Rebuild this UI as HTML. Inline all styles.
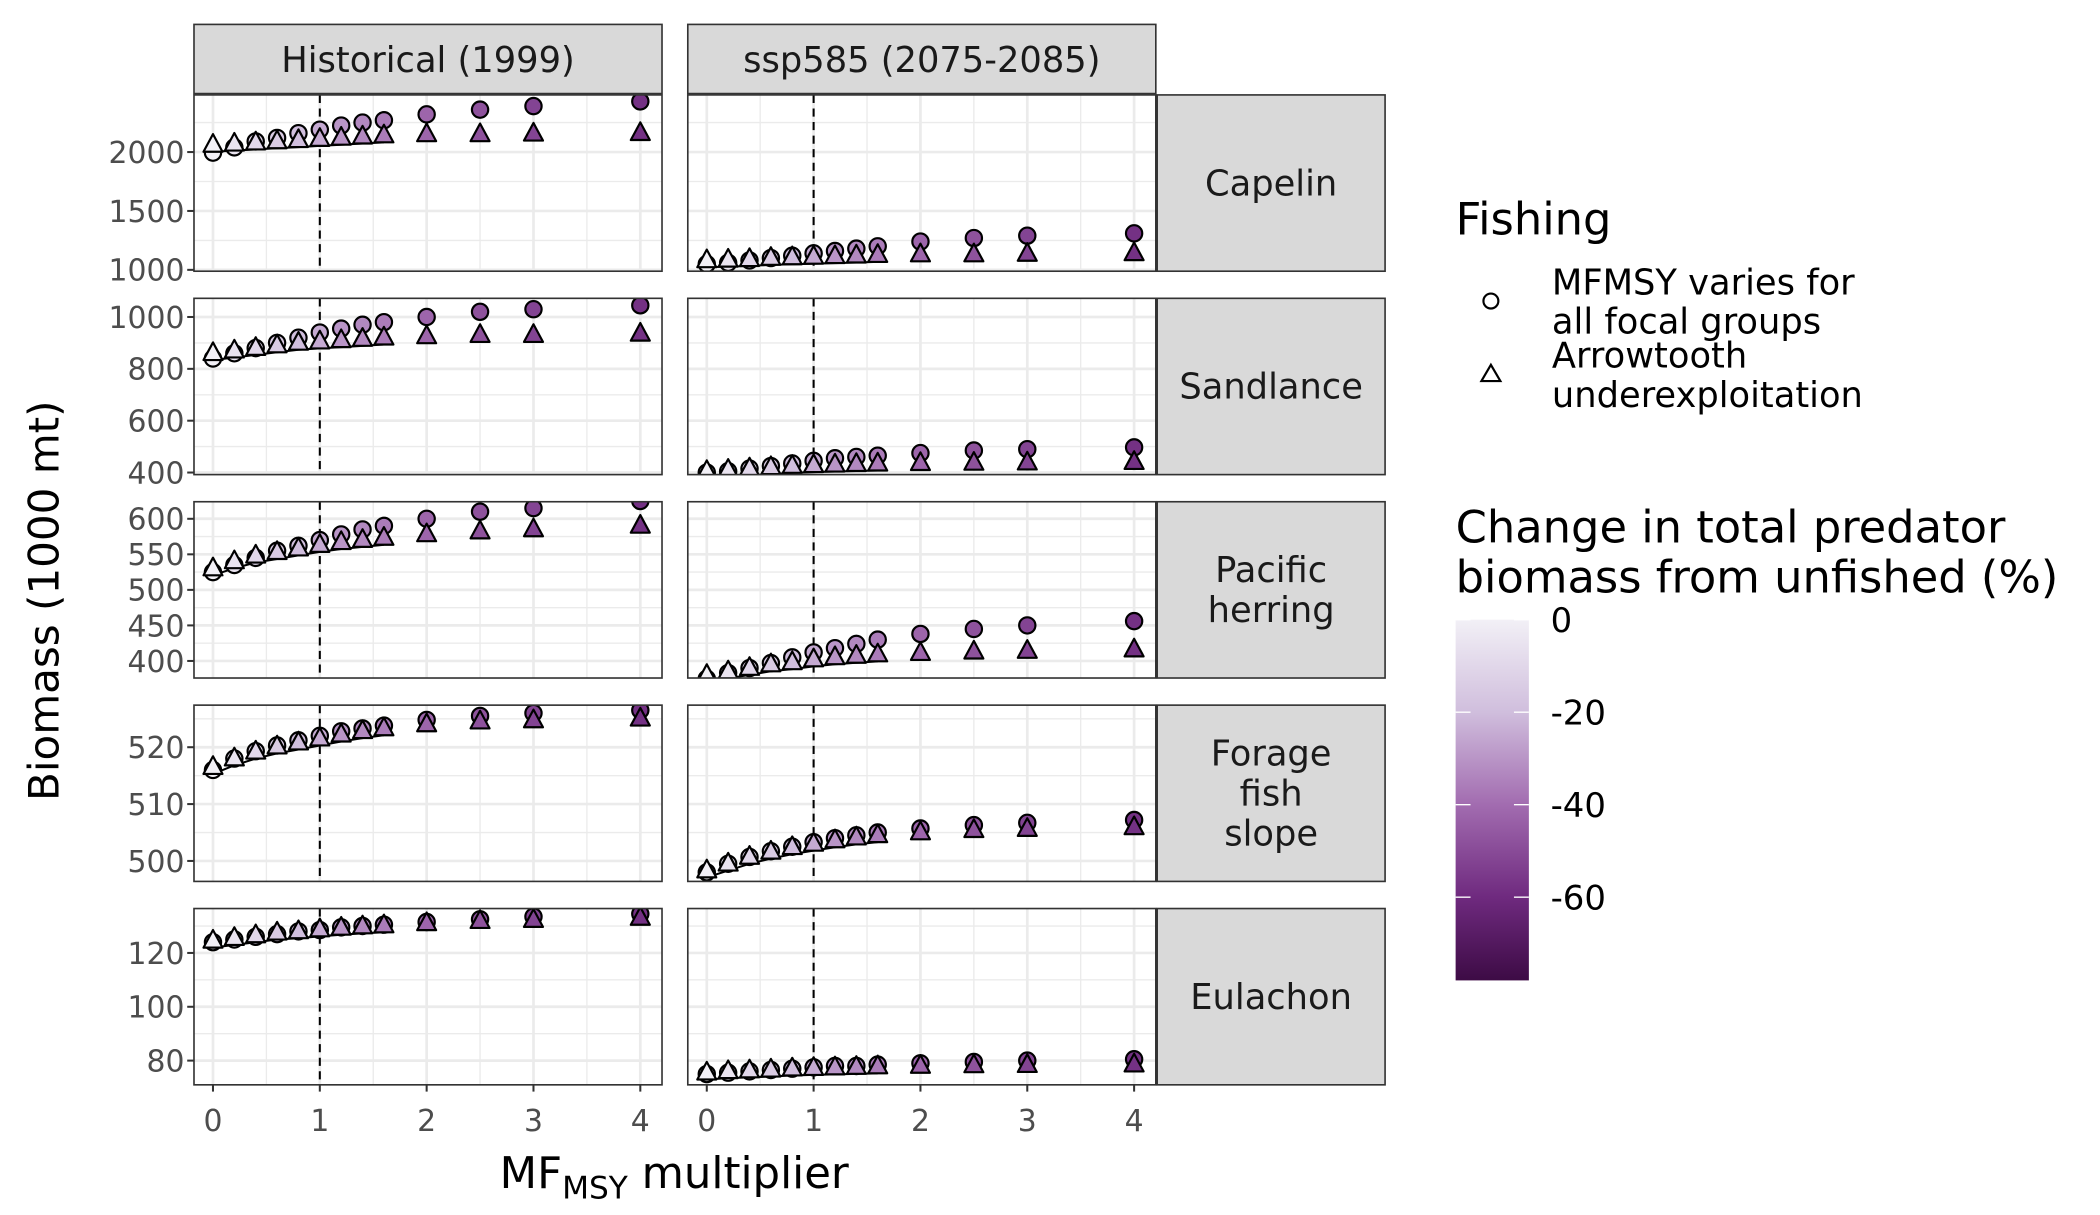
<!DOCTYPE html>
<html><head><meta charset="utf-8">
<style>html,body{margin:0;padding:0;background:#fff;}svg{display:block;font-family:"DejaVu Sans","Liberation Sans",sans-serif;}</style>
</head><body>
<svg id="chart" width="2100" height="1215" viewBox="0 0 1548 896" preserveAspectRatio="none" xmlns="http://www.w3.org/2000/svg"></svg>
<script>
const xVals = [0,0.2,0.4,0.6,0.8,1,1.2,1.4,1.6,2,2.5,3,4];
const changePct = [0,-5,-10,-15,-20,-25,-30,-33,-36,-42,-48,-52,-58];
const species = ["Capelin","Sandlance","Pacific\nherring","Forage\nfish\nslope","Eulachon"];
const scenarios = ["Historical (1999)","ssp585 (2075-2085)"];
const capHistCirc = [1995,2040,2090,2120,2160,2190,2225,2250,2270,2320,2360,2390,2430];
const capHistTri = [2060,2070,2080,2090,2100,2110,2120,2130,2140,2150,2150,2155,2160];
const capSspCirc = [1050,1060,1080,1100,1120,1140,1160,1180,1200,1240,1270,1290,1310];
const capSspTri = [1080,1085,1090,1100,1105,1110,1115,1120,1125,1130,1130,1135,1140];
const sanHistCirc = [840,860,880,900,920,940,955,970,980,1000,1020,1030,1045];
const sanHistTri = [860,870,880,890,900,905,910,915,920,925,930,930,935];
const sanSspCirc = [400,405,415,425,435,445,455,460,465,475,485,490,497];
const sanSspTri = [405,410,415,420,425,428,430,432,434,436,437,438,440];
const herHistCirc = [525,535,545,555,562,570,578,585,590,600,610,615,625];
const herHistTri = [530,540,548,553,558,563,567,570,573,578,582,585,590];
const herSspCirc = [375,383,390,397,405,412,418,424,430,438,445,450,456];
const herSspTri = [380,385,390,395,398,402,405,407,409,411,413,414,416];
const forHistCirc = [516,518,519.3,520.3,521.2,522,522.8,523.3,523.8,524.8,525.5,526,526.5];
const forHistTri = [516.5,518,519.2,520.1,520.8,521.5,522.2,522.8,523.3,524,524.5,524.7,525];
const forSspCirc = [498,499.5,500.7,501.7,502.5,503.3,504,504.5,505,505.7,506.3,506.7,507.2];
const forSspTri = [498.3,499.5,500.7,501.6,502.4,503,503.6,504.1,504.5,505,505.4,505.6,505.9];
const eulHistCirc = [124,125,126,127,128,128.5,129.5,130,130.5,131.5,132.5,133.5,134.5];
const eulHistTri = [124.5,125.5,126.5,127.5,128,128.7,129.3,129.8,130.2,131,131.8,132.2,133];
const eulSspCirc = [75,75.5,76,76.5,77,77.5,78,78,78.5,79,79.5,80,80.5];
const eulSspTri = [75.5,76,76.3,76.6,77,77.2,77.4,77.6,77.8,78,78.2,78.3,78.5];
const yTicks = [[1000,1500,2000],[400,600,800,1000],[400,450,500,550,600],[500,510,520],[80,100,120]];
const xTicks = [0,1,2,3,4];
const legendTicks = [0,-20,-40,-60];

const circData = [[capHistCirc,capSspCirc],[sanHistCirc,sanSspCirc],[herHistCirc,herSspCirc],[forHistCirc,forSspCirc],[eulHistCirc,eulSspCirc]];
const triData = [[capHistTri,capSspTri],[sanHistTri,sanSspTri],[herHistTri,herSspTri],[forHistTri,forSspTri],[eulHistTri,eulSspTri]];
const rowTop = [70,220,370,520,670], rowH = 130;
const yDom = [[2485,988.5],[1072,392],[624,376],[527.4,496.4],[136.5,71]];
const colX = [143,507], colW = 345;
const svg = document.getElementById('chart');
const NS = 'http://www.w3.org/2000/svg';
function mk(tag, attrs, parent){const e=document.createElementNS(NS,tag);for(const k in attrs)e.setAttribute(k,attrs[k]);(parent||svg).appendChild(e);return e;}
function xs(c,v){return colX[c]+14+v*78.75;}
function ys(r,v){const d=yDom[r];return rowTop[r]+(d[0]-v)/(d[0]-d[1])*rowH;}
const stops=[[0,[242,240,246]],[-20,[208,190,221]],[-40,[162,108,176]],[-60,[111,42,127]],[-78,[61,11,69]]];
function col(p){for(let i=0;i<stops.length-1;i++){const a=stops[i],b=stops[i+1];if(p<=a[0]&&p>=b[0]){const t=(a[0]-p)/(a[0]-b[0]);return 'rgb('+a[1].map((c,j)=>Math.round(c+(b[1][j]-c)*t)).join(',')+')';}}return 'rgb(61,11,69)';}

scenarios.forEach((s,c)=>{
  const g=mk('g',{});
  
  
  mk('rect',{x:colX[c],y:18,width:colW,height:51,fill:'#d9d9d9',stroke:'#333','stroke-width':1.2},g);
  const t=mk('text',{x:colX[c]+colW/2,y:53,'text-anchor':'middle','font-size':26,fill:'#1a1a1a'},g);t.textContent=s;
});
species.forEach((sp,r)=>{
  const g=mk('g',{});
  
  
  mk('rect',{x:853,y:rowTop[r],width:168,height:rowH,fill:'#d9d9d9',stroke:'#333','stroke-width':1.2},g);
  const lines=sp.split('\n');
  lines.forEach((l,i)=>{const t=mk('text',{x:937,y:rowTop[r]+rowH/2+9+(i-(lines.length-1)/2)*29.5,'text-anchor':'middle','font-size':26,fill:'#1a1a1a'},g);t.textContent=l;});
});
for(let r=0;r<5;r++){for(let c=0;c<2;c++){
  const g=mk('g',{});
  
  
  const x0=colX[c],y0=rowTop[r];
  mk('rect',{x:x0,y:y0,width:colW,height:rowH,fill:'#fff'},g);
  const cp='clip'+r+c;const cl=mk('clipPath',{id:cp},g);mk('rect',{x:x0,y:y0,width:colW,height:rowH},cl);
  const inner=mk('g',{'clip-path':'url(#'+cp+')'},g);
  const tk=yTicks[r];const step=tk[1]-tk[0];
  for(let v=tk[0]-step*2;v<=tk[tk.length-1]+step*2;v+=step/2){
    const y=ys(r,v);const major=Math.abs(((v-tk[0])/step)%1)<1e-6;
    mk('line',{x1:x0,x2:x0+colW,y1:y,y2:y,stroke:'#ebebeb','stroke-width':major?2:1},inner);
  }
  for(let v=-0.5;v<=4.5;v+=0.5){const x=xs(c,v);mk('line',{x1:x,x2:x,y1:y0,y2:y0+rowH,stroke:'#ebebeb','stroke-width':(v%1===0)?2:1},inner);}
  mk('line',{x1:xs(c,1),x2:xs(c,1),y1:y0,y2:y0+rowH,stroke:'#000','stroke-width':1.5,'stroke-dasharray':'6,4'},inner);
  const tri=triData[r][c],cir=circData[r][c];
  let pts=[];xVals.forEach((xv,i)=>{if(xv<=1.6)pts.push(xs(c,xv)+','+(ys(r,tri[i])+5));});
  mk('polyline',{points:pts.join(' '),fill:'none',stroke:'#000','stroke-width':1.5},inner);
  xVals.forEach((xv,i)=>{
    const x=xs(c,xv),y=ys(r,cir[i]);
    const e=mk('circle',{cx:x,cy:y,r:6,fill:col(changePct[i]),stroke:'#000','stroke-width':1.6},inner);
    
    
  });
  xVals.forEach((xv,i)=>{
    const x=xs(c,xv),y=ys(r,tri[i]);
    const e=mk('polygon',{points:(x)+','+(y-8)+' '+(x-7)+','+(y+5)+' '+(x+7)+','+(y+5),fill:col(changePct[i]),stroke:'#000','stroke-width':1.6,'stroke-linejoin':'round'},inner);
    
    
  });
  mk('rect',{x:x0,y:y0,width:colW,height:rowH,fill:'none',stroke:'#333','stroke-width':1.2},g);
  if(c===0){tk.forEach(v=>{const y=ys(r,v);mk('line',{x1:x0-5,x2:x0,y1:y,y2:y,stroke:'#333','stroke-width':1.5},g);
    const t=mk('text',{x:x0-7,y:y+8,'text-anchor':'end','font-size':22,fill:'#4d4d4d'},g);t.textContent=v;});}
  if(r===4){xTicks.forEach(v=>{const x=xs(c,v);mk('line',{x1:x,x2:x,y1:800,y2:805,stroke:'#333','stroke-width':1.5},g);
    const t=mk('text',{x:x,y:834,'text-anchor':'middle','font-size':22,fill:'#4d4d4d'},g);t.textContent=v;});}
}}
let t=mk('text',{x:497,y:876,'text-anchor':'middle','font-size':32,fill:'#000'});

t.innerHTML='MF<tspan font-size="23" dy="8">MSY</tspan><tspan dy="-8"> multiplier</tspan>';
t=mk('text',{x:0,y:0,'text-anchor':'middle','font-size':31,fill:'#000',transform:'translate(43,443) rotate(-90)'});

t.textContent='Biomass (1000 mt)';
const lg=mk('g',{});
t=mk('text',{x:1073,y:173,'font-size':33,fill:'#000'},lg);t.textContent='Fishing';
mk('circle',{cx:1099,cy:222,r:5.5,fill:'#fff',stroke:'#000','stroke-width':1.6},lg);
mk('polygon',{points:'1099,269 1092,281 1106,281',fill:'#fff',stroke:'#000','stroke-width':1.6},lg);
[['MFMSY varies for',217],['all focal groups',246],['Arrowtooth',271],['underexploitation',300]].forEach(a=>{const e=mk('text',{x:1144,y:a[1],'font-size':26,fill:'#000'},lg);e.textContent=a[0];});
const cg=mk('g',{});
t=mk('text',{x:1073,y:400,'font-size':33,fill:'#000'},cg);t.textContent='Change in total predator';
t=mk('text',{x:1073,y:437,'font-size':33,fill:'#000'},cg);t.textContent='biomass from unfished (%)';
const defs=mk('defs',{});const lgd=mk('linearGradient',{id:'cb',x1:0,y1:0,x2:0,y2:1},defs);
stops.forEach(s=>{mk('stop',{offset:(-s[0]/78),'stop-color':'rgb('+s[1].join(',')+')'},lgd);});
mk('rect',{x:1073,y:457,width:54,height:266,fill:'url(#cb)'},cg);
legendTicks.forEach(v=>{const y=457+(-v/78)*266;
  mk('line',{x1:1073,x2:1084,y1:y,y2:y,stroke:'#fff','stroke-width':1},cg);
  mk('line',{x1:1116,x2:1127,y1:y,y2:y,stroke:'#fff','stroke-width':1},cg);
  const e=mk('text',{x:1143,y:y+9,'font-size':25,fill:'#000'},cg);e.textContent=v;});
</script>
</body></html>
